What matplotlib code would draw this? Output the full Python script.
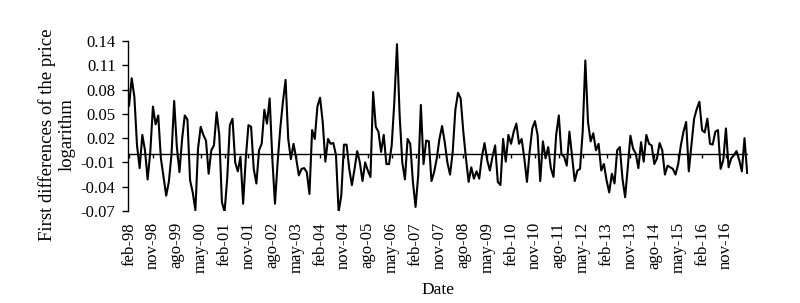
import numpy as np
import matplotlib
matplotlib.use("Agg")
import matplotlib.pyplot as plt

plt.rcParams['font.family'] = ['Liberation Serif', 'DejaVu Serif']
plt.rcParams['axes.unicode_minus'] = False

# monthly first differences of log price, feb-98 .. jul-17
diff_log = [
    0.060, 0.094, 0.071, 0.011, -0.017, 0.024, 0.005, -0.031, 0.003, 0.059,
    0.037, 0.048, -0.005, -0.028, -0.051, -0.034, 0.000, 0.066, 0.010, -0.022,
    0.019, 0.048, 0.043, -0.032, -0.047, -0.069, 0.007, 0.034, 0.024, 0.017,
    -0.024, 0.005, 0.011,
    0.052, 0.024, -0.059, -0.071, -0.030, 0.036, 0.044, -0.010, -0.021, -0.003,
    -0.061, -0.005, 0.036, 0.034, -0.018, -0.036, 0.005, 0.013, 0.055, 0.038,
    0.069, -0.005, -0.061, -0.010, 0.032, 0.065, 0.092, 0.019, -0.006, 0.013,
    -0.005, -0.026, -0.018,
    -0.017, -0.022, -0.049, 0.030, 0.019, 0.059, 0.070, 0.040, -0.009, 0.019,
    0.013, 0.014, -0.001, -0.071, -0.051, 0.012, 0.012, -0.018, -0.038, -0.018,
    0.004, -0.010, -0.033, -0.010, -0.020, -0.028, 0.077, 0.034, 0.028, 0.003,
    0.024, -0.012, -0.012,
    0.011, 0.065, 0.136, 0.048, -0.010, -0.031, 0.019, 0.013, -0.034, -0.065,
    -0.026, 0.061, -0.012, 0.017, 0.016, -0.033, -0.022, -0.005, 0.019, 0.035,
    0.015, -0.010, -0.025, 0.003, 0.055, 0.076, 0.069, 0.028, -0.005, -0.034,
    -0.016, -0.030, -0.021,
    -0.030, -0.003, 0.014, -0.007, -0.020, -0.003, 0.011, -0.034, -0.038, 0.019,
    -0.009, 0.024, 0.013, 0.028, 0.038, 0.013, 0.019, -0.005, -0.034, 0.003,
    0.032, 0.041, 0.024, -0.033, 0.016, -0.005, 0.009, -0.017, -0.028, 0.024,
    0.048, 0.000, -0.003,
    -0.014, 0.028, -0.003, -0.033, -0.020, -0.018, 0.028, 0.116, 0.040, 0.016,
    0.026, 0.005, 0.013, -0.020, -0.012, -0.032, -0.047, -0.024, -0.036, 0.005,
    0.009, -0.030, -0.053, -0.016, 0.023, 0.007, 0.001, -0.017, 0.015, -0.009,
    0.024, 0.013,
    0.011, -0.012, -0.005, 0.014, 0.005, -0.025, -0.014, -0.016, -0.018, -0.025,
    -0.012, 0.011, 0.028, 0.040, -0.021, 0.011, 0.044, 0.056, 0.065, 0.030,
    0.027, 0.044, 0.013, 0.012, 0.028, 0.030, -0.018, -0.007, 0.032, -0.016,
    -0.005, -0.001, 0.004, -0.007, -0.021, 0.020, -0.023,
]

month_names = ['ene', 'feb', 'mar', 'abr', 'may', 'jun',
               'jul', 'ago', 'sep', 'oct', 'nov', 'dic']
start_year = 1998
start_month = 1  # index of feb
y_ticks = [-0.07, -0.04, -0.01, 0.02, 0.05, 0.08, 0.11, 0.14]

n = len(diff_log)
x = np.arange(n)
tick_pos = list(range(0, n, 9))
tick_labels = []
for k in tick_pos:
    m = start_month + k
    tick_labels.append(f"{month_names[m % 12]}-{(start_year + m // 12) % 100:02d}")

fig = plt.figure(figsize=(8, 3.03), dpi=100)
ax = fig.add_axes([0.16, 0.3036, 0.7756, 0.5611])

ax.plot(x, diff_log, color='black', linewidth=1.5)
ax.axhline(0, color='black', linewidth=1.0)

ax.set_xlim(-0.4, n - 0.5)
ax.set_ylim(-0.07, 0.14)
ax.set_yticks(y_ticks)
ax.set_yticklabels([f"{v:.2f}" for v in y_ticks])

for s in ['top', 'right']:
    ax.spines[s].set_visible(False)
ax.spines['bottom'].set_position(('data', 0))
ax.spines['bottom'].set_visible(False)
ax.spines['left'].set_linewidth(1.0)

ax.set_xticks(tick_pos)
ax.tick_params(axis='x', direction='out', length=3, width=1, labelbottom=False)
ax.tick_params(axis='y', direction='out', length=4, width=1, labelsize=12, pad=5)

sec = ax.secondary_xaxis(0)
sec.spines['bottom'].set_visible(False)
sec.set_xticks(tick_pos)
sec.set_xticklabels(tick_labels, rotation=90)
sec.tick_params(length=0, pad=8, labelsize=12)
sec.set_xlabel('Date', fontsize=12.5, labelpad=6)

ax.set_ylabel('First differences of the price\nlogarithm', fontsize=13.5,
              multialignment='center')
ax.yaxis.set_label_coords(-0.084, 0.45)

fig.savefig('out.png', dpi=100)
